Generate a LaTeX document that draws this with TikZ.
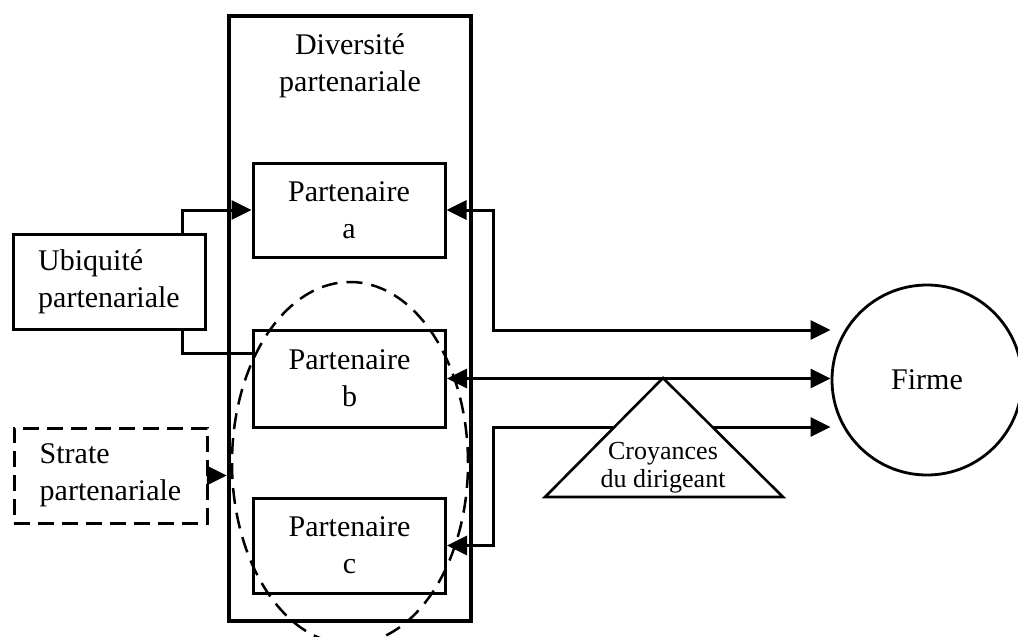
\documentclass[tikz,border=0pt]{standalone}
\usepackage{fontspec}
\setmainfont{Liberation Serif}
\usetikzlibrary{arrows.meta,calc}
\begin{document}
\begin{tikzpicture}[x=1pt,y=-1pt,
  base/.style={font=\fontsize{30}{37}\selectfont, align=center, inner sep=0pt},
  pbox/.style={base, draw, line width=3pt, minimum width=192pt, minimum height=95pt},
  conn/.style={line width=3pt},
  arr/.style={conn, -{Triangle[length=20pt,width=19pt]}},
  darr/.style={conn, {Triangle[length=20pt,width=19pt]}-{Triangle[length=20pt,width=19pt]}},
  dashline/.style={dash pattern=on 16pt off 9pt, line width=2.5pt}
]
\useasboundingbox (0,0) rectangle (1018,637);
% main container
\node[draw, line width=4.5pt, minimum width=242pt, minimum height=605pt, inner sep=0pt] (div) at (350,318.5) {};
\node[base] (divt) at (350,66) {Diversité\\partenariale};
% partners
\node[pbox, minimum height=94pt] (pa) at (349,210) {Partenaire\\a};
\node[pbox, minimum height=97pt] (pb) at (349.5,378.5) {Partenaire\\b};
\node[pbox] (pc) at (349.5,545.5) {Partenaire\\c};
% left boxes
\node[pbox, align=left] (ubi) at (109,281.5) {Ubiquité\\partenariale};
\node[pbox, align=left, dash pattern=on 16pt off 8pt, minimum width=193pt] (str) at (110.5,475.5) {Strate\\partenariale};
% firm
\node[base, draw, circle, line width=2.8pt, minimum size=190pt] (firme) at (927,380) {Firme};
% junction coordinates
\coordinate (u1) at (182,210);
\coordinate (u2) at (182,353);
\coordinate (j1) at (493,210);
\coordinate (j2) at (493,330);
\coordinate (j3) at (493,427);
\coordinate (j4) at (493,545.5);
% connectors
\draw[arr] (ubi.north -| u1) -- (u1) -- (pa.west);
\draw[conn] (ubi.south -| u2) -- (u2) -- (u2 -| pb.west);
\draw[arr] (str.east) -- (str.east -| div.west);
\draw[darr] (pa.east) -- (j1) -- (j2) -- (firme.west |- j2);
\draw[darr] (pb.east) -- (firme.west |- pb.east);
\draw[darr] (pc.east) -- (j4) -- (j3) -- (firme.west |- j3);
% triangle
\coordinate (tA) at (663,378);
\coordinate (tL) at (545,497);
\coordinate (tR) at (783,497);
\draw[line width=2.6pt, fill=white] (tA) -- (tR) -- (tL) -- cycle;
\node[base, font=\fontsize{26}{28}\selectfont] (croy) at (663,468) {Croyances\\du dirigeant};
% dashed ellipse
\draw[dashline] (350,463) ellipse [x radius=118pt, y radius=181pt];
\end{tikzpicture}
\end{document}
